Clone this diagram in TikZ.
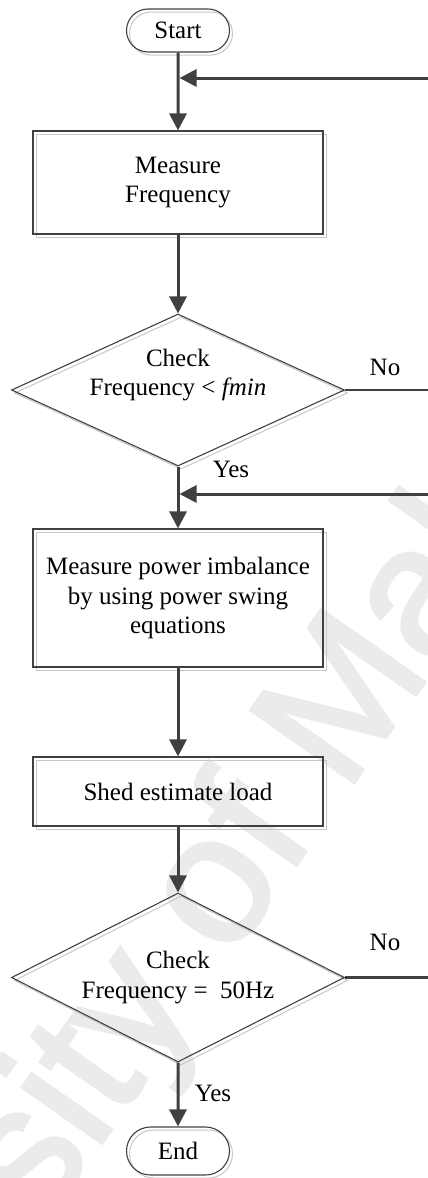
\documentclass[tikz,border=0pt]{standalone}
\usepackage{fontspec}
\setmainfont{Liberation Serif}
\newfontfamily\wmfont[FakeBold=2]{Liberation Sans}
\usetikzlibrary{arrows.meta,shapes.geometric,shapes.misc}
\definecolor{ink}{HTML}{404040}
\definecolor{wmgray}{HTML}{EBEBEB}
\begin{document}
\begin{tikzpicture}[x=1pt,y=-1pt,
  every node/.style={font=\fontsize{25}{29.5}\selectfont, text=black},
  offsetshadow/.style={preaction={draw=black!22, line width=1pt,
      transform canvas={shift={(3pt,-3pt)}}}},
  terminal/.style={rounded rectangle, draw=ink, line width=1.1pt,
      minimum width=103pt, inner sep=0pt, offsetshadow},
  procbox/.style={rectangle, draw=ink, line width=1.1pt, align=center,
      minimum width=290pt, inner sep=0pt, offsetshadow},
  decision/.style={diamond, draw=ink, line width=1.1pt, aspect=2.19,
      minimum width=333pt, inner sep=0pt, offsetshadow},
  label/.style={align=center},
  flow/.style={draw=ink, line width=3pt, -{Triangle[length=17pt,width=17pt]}},
  plainline/.style={draw=ink, line width=2.4pt},
  watermark/.style={font=\wmfont\fontsize{183}{190}\selectfont, text=wmgray,
      rotate=55, anchor=base west, inner sep=0pt},
]
\useasboundingbox (0,0) rectangle (428,1178);

% faint diagonal watermark
\begin{scope}
  \clip (0,0) rectangle (428,1178);
  \node[watermark] (wm) at (-261,1661) {University of Malaya};
\end{scope}

% flowchart blocks
\node[terminal, minimum height=43pt] (start) at (178,30.5) {Start};
\node[procbox, minimum height=103pt] (meas) at (178,182.5) {Measure\\Frequency};
\node[decision, minimum height=152pt] (d1) at (178,390) {};
\node[label] (d1txt) at (178,375) {Check\\Frequency < \textit{fmin}};
\node[procbox, minimum height=138pt] (imb) at (178,598)
  {Measure power imbalance\\by using power swing\\equations};
\node[procbox, minimum height=69pt] (shed) at (178,791.5) {Shed estimate load};
\node[decision, minimum height=169pt] (d2) at (178,977.5) {};
\node[label] (d2txt) at (178,977.5) {Check\\Frequency = ~50Hz};
\node[terminal, minimum height=48pt] (end) at (178,1151) {End};

% loop-back entry points and free ends
\coordinate (in1) at (428,78);
\coordinate (j1) at (179.5,78);
\coordinate (in2) at (428,494);
\coordinate (j2) at (179.5,494);
\coordinate (out1) at (428,390);
\coordinate (out2) at (428,977.5);

% connectors
\draw[flow] (start) -- (meas);
\draw[flow] (in1) -- (j1);
\draw[flow] (meas) -- (d1);
\draw[flow] (d1) -- (imb);
\draw[flow] (in2) -- (j2);
\draw[flow] (imb) -- (shed);
\draw[flow] (shed) -- (d2);
\draw[flow] (d2) -- (end);
\draw[plainline] (d1.east) -- (out1);
\draw[plainline] (d2.east) -- (out2);

% branch labels
\node (no1) at (385,367) {No};
\node (yes1) at (231,469) {Yes};
\node (no2) at (385,942) {No};
\node (yes2) at (213,1093) {Yes};
\end{tikzpicture}
\end{document}
